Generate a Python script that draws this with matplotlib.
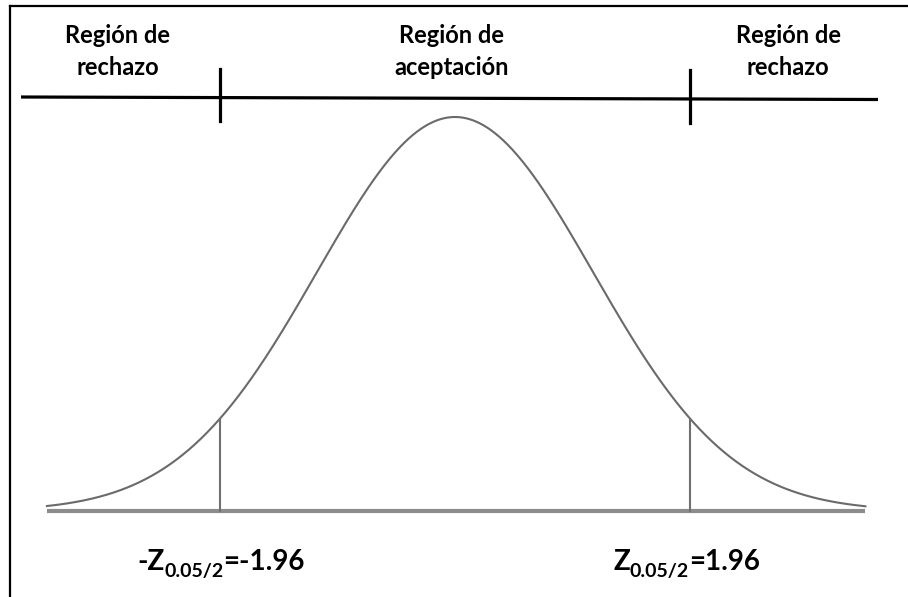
import numpy as np
import matplotlib.pyplot as plt

# ---- data ----
region_line1 = ["Región de", "Región de", "Región de"]
region_line2 = ["rechazo", "aceptación", "rechazo"]
z_crit = 1.96
alpha_label = "0.05/2"
crit_values = [-1.96, 1.96]
curve_sd = 1.15          # spread of the drawn bell (in z units)
z_min, z_max = -3.4, 3.42

# ---- pixel <-> data helpers ----
W, Hpx = 908, 597
X0, PXU = 455.0, 120.0     # centre pixel, pixels per z unit
Y0, HU = 511.0, 394.0      # baseline pixel, pixels per unit height

def px(x):
    return (x - X0) / PXU

def py(y):
    return (Y0 - y) / HU

fig = plt.figure(figsize=(W / 100, Hpx / 100), dpi=100)
ax = fig.add_axes([0, 0, 1, 1])
ax.set_xlim(px(0), px(W))
ax.set_ylim(py(Hpx), py(0))
ax.axis('off')

FONT = 'Lato'
TXT = '#000000'

# frame (left + top)
ax.plot([px(10), px(10)], [py(6), py(Hpx + 5)], color='black', lw=1.6, clip_on=False)
ax.plot([px(10), px(W + 5)], [py(6), py(6)], color='black', lw=1.6, clip_on=False)

# top region line with ticks
ax.plot([px(21), px(878)], [py(97), py(99.5)], color='black', lw=2.3, solid_capstyle='butt')
ax.plot([-z_crit, -z_crit], [py(69), py(121)], color='black', lw=2.3)
ax.plot([z_crit, z_crit], [py(70), py(123)], color='black', lw=2.3)

# bell curve
z = np.linspace(z_min, z_max, 800)
dens = np.exp(-0.5 * (z / curve_sd) ** 2)
ax.plot(z, dens, color='#6a6a6a', lw=1.5)

# baseline
ax.plot([z_min, z_max], [0, 0], color='#8c8c8c', lw=3.0, solid_capstyle='butt')

# critical verticals
for zc in (-z_crit, z_crit):
    h = np.exp(-0.5 * (zc / curve_sd) ** 2)
    ax.plot([zc, zc], [0, h], color='#707070', lw=1.5)

# region labels
centres = [118, 452, 788]
for cx, l1, l2 in zip(centres, region_line1, region_line2):
    ax.text(px(cx), py(43), l1, ha='center', va='baseline', fontsize=17,
            fontweight='bold', family=FONT, color=TXT)
    ax.text(px(cx), py(75), l2, ha='center', va='baseline', fontsize=17,
            fontweight='bold', family=FONT, color=TXT)

# critical value labels built from pieces
renderer = fig.canvas.get_renderer()

def pieces(x_left, base, items):
    x = x_left
    for s, fs, dy in items:
        t = ax.text(px(x), py(base + dy), s, ha='left', va='baseline', fontsize=fs,
                    fontweight='bold', family=FONT, color=TXT)
        bb = t.get_window_extent(renderer)
        x = bb.x1

def fmt(v):
    return f"{v:.2f}"

pieces(137, 570, [("-Z", 20, 0), (alpha_label, 14, 7), ("=" + fmt(crit_values[0]), 20, 0)])
pieces(613, 570, [("Z", 20, 0), (alpha_label, 14, 7), ("=" + fmt(crit_values[1]), 20, 0)])

fig.savefig('out.png', dpi=100)
